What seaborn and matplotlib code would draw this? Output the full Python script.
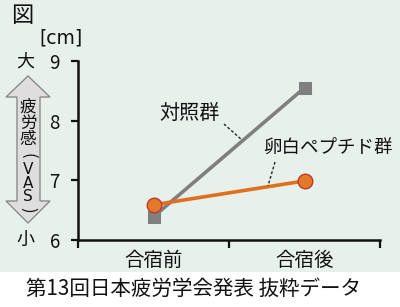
import matplotlib
matplotlib.use("Agg")
import matplotlib.pyplot as plt
import seaborn as sns
import pandas as pd
from matplotlib.patches import Polygon, Rectangle

# ---- data ----
phases = ["合宿前", "合宿後"]
control_vals = [6.39, 8.55]
egg_vals = [6.59, 6.99]
series_names = ["対照群", "卵白ペプチド群"]
y_ticks = [6, 7, 8, 9]

sns.set_theme(style="ticks")
plt.rcParams['font.family'] = ['Noto Sans CJK JP', 'DejaVu Sans']

W, H = 400, 307
BG = "#e8f0ec"
fig = plt.figure(figsize=(W / 100, H / 100), dpi=100, facecolor=BG)

def fx(px):
    return px / W

def fy(py):
    return 1 - py / H

# white strip at the bottom
fig.patches.append(Rectangle((0, 0), 1, fy(272), transform=fig.transFigure,
                             facecolor="white", edgecolor="none", zorder=0))

ax = fig.add_axes([fx(78), fy(240), fx(380) - fx(78), fy(61) - fy(240)])
ax.set_facecolor(BG)

df = pd.DataFrame({
    "phase": phases * 2,
    "value": control_vals + egg_vals,
    "group": [series_names[0]] * 2 + [series_names[1]] * 2,
})

sns.lineplot(data=df[df.group == series_names[0]], x="phase", y="value", ax=ax,
             color="#7f7f7f", lw=2.6, marker="s", markersize=9,
             markeredgecolor="#7f7f7f", markerfacecolor="#808080", zorder=3)
sns.lineplot(data=df[df.group == series_names[1]], x="phase", y="value", ax=ax,
             color="#e0701e", lw=2.6, marker="o", markersize=10.5,
             markeredgecolor="#c0392b", markeredgewidth=1.0,
             markerfacecolor="#e27a2a", zorder=4)

ax.set_xlim(-0.5, 1.5)
ax.set_ylim(6, 9)
ax.set_yticks(y_ticks)
ax.set_xticks([0, 1])
ax.set_xticklabels(phases)
ax.set_xticks([-0.5, 0.5, 1.5], minor=True)
ax.tick_params(axis="x", which="major", length=0, pad=7, labelsize=14, colors="#111111")
ax.tick_params(axis="x", which="minor", length=6, width=1.6, direction="out", color="#111111")
ax.tick_params(axis="y", length=5, width=1.6, direction="out", pad=8, labelsize=13.5,
               colors="#111111")
ax.set_xlabel("")
ax.set_ylabel("")
for s in ["top", "right"]:
    ax.spines[s].set_visible(False)
for s in ["left", "bottom"]:
    ax.spines[s].set_linewidth(1.8)
    ax.spines[s].set_color("#111111")
ax.spines["left"].set_bounds(6, 9)

# ---- series labels with dashed leaders ----
fig.text(fx(190), fy(113), series_names[0], ha="center", va="center", fontsize=14.5,
         color="#111111")
fig.text(fx(328), fy(148), series_names[1], ha="center", va="center", fontsize=13.3,
         color="#111111")
fig.lines.append(plt.Line2D([fx(224), fx(242)], [fy(124), fy(140)], transform=fig.transFigure,
                            color="#222222", lw=1, ls=(0, (2, 1.5))))
fig.lines.append(plt.Line2D([fx(275), fx(268)], [fy(162), fy(186)], transform=fig.transFigure,
                            color="#222222", lw=1, ls=(0, (2, 1.5))))

# ---- left annotations ----
fig.text(fx(22), fy(16), "図", ha="center", va="center", fontsize=16, color="#111111")
fig.text(fx(61), fy(38), "[cm]", ha="center", va="center", fontsize=13.5, color="#111111",
         family=['DejaVu Sans'])
fig.text(fx(25), fy(62), "大", ha="center", va="center", fontsize=13, color="#111111")
fig.text(fx(25), fy(240), "小", ha="center", va="center", fontsize=13, color="#111111")

# double-headed arrow
cx = 28
pts = [(cx, 76), (50, 97), (40, 97), (40, 201), (50, 201), (cx, 223),
       (6, 201), (17, 201), (17, 97), (6, 97)]
poly = Polygon([(fx(x), fy(y)) for x, y in pts], closed=True, transform=fig.transFigure,
               facecolor="#dedede", edgecolor="#8a8a8a", lw=1)
fig.patches.append(poly)

# vertical label: kanji block, bracketed VAS block
fig.text(fx(cx), fy(123), "疲\n労\n感", ha="center", va="center", fontsize=12,
         color="#111111", linespacing=0.95)
fig.text(fx(cx), fy(183), "V\nA\nS", ha="center", va="center", fontsize=11,
         color="#111111", linespacing=0.84, family=['DejaVu Sans'])
fig.text(fx(cx), fy(156), "(", ha="center", va="center", fontsize=12, color="#111111",
         rotation=-90, rotation_mode="anchor")
fig.text(fx(cx), fy(210), ")", ha="center", va="center", fontsize=12, color="#111111",
         rotation=-90, rotation_mode="anchor")

# caption
fig.text(fx(193), fy(289), "第13回日本疲労学会発表 抜粋データ", ha="center", va="center",
         fontsize=14.8, color="#111111")

fig.savefig("out.png", dpi=100, facecolor=BG)
